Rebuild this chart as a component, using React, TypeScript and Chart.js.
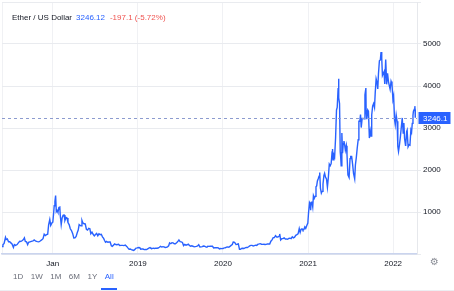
import React, { useEffect, useRef } from 'react';
import { Chart, registerables } from 'chart.js';

Chart.register(...registerables);

const title = 'Ether / US Dollar';
const ranges = ['1D', '1W', '1M', '6M', '1Y', 'All'];
const activeRange = 'All';
const yTickValues = [0, 1000, 2000, 3000, 4000, 5000, 6000];
const yLabelValues = [1000, 2000, 3000, 4000, 5000];
const xTickYears = [2018, 2019, 2020, 2021, 2022];
const xTickLabels = ['Jan', '2019', '2020', '2021', '2022'];

const eth2017: [string, number][] = [
  ['2017-05-28', 175], ['2017-06-01', 220], ['2017-06-06', 250], ['2017-06-12', 395], ['2017-06-15', 345],
  ['2017-06-20', 360], ['2017-06-25', 290], ['2017-06-30', 290], ['2017-07-05', 265], ['2017-07-10', 240],
  ['2017-07-16', 155], ['2017-07-20', 225], ['2017-07-25', 205], ['2017-08-01', 225], ['2017-08-06', 265],
  ['2017-08-12', 305], ['2017-08-16', 300], ['2017-08-22', 315], ['2017-08-28', 345], ['2017-09-01', 385],
  ['2017-09-05', 300], ['2017-09-10', 290], ['2017-09-15', 225], ['2017-09-19', 280], ['2017-09-25', 290],
  ['2017-10-01', 300], ['2017-10-08', 310], ['2017-10-13', 335], ['2017-10-20', 305], ['2017-10-27', 295],
  ['2017-11-02', 290], ['2017-11-08', 310], ['2017-11-14', 335], ['2017-11-20', 365], ['2017-11-25', 470],
  ['2017-11-30', 440], ['2017-12-05', 460], ['2017-12-10', 470], ['2017-12-14', 695], ['2017-12-19', 820],
  ['2017-12-23', 680], ['2017-12-28', 740],
];

const eth2018: [string, number][] = [
  ['2018-01-01', 760], ['2018-01-04', 940], ['2018-01-07', 1150], ['2018-01-10', 1250], ['2018-01-13', 1390],
  ['2018-01-16', 1010], ['2018-01-19', 1040], ['2018-01-23', 990], ['2018-01-27', 1110], ['2018-01-31', 1120],
  ['2018-02-02', 915], ['2018-02-06', 700], ['2018-02-10', 860], ['2018-02-14', 920], ['2018-02-18', 930],
  ['2018-02-22', 800], ['2018-02-27', 870], ['2018-03-03', 860], ['2018-03-07', 750], ['2018-03-12', 700],
  ['2018-03-17', 600], ['2018-03-22', 560], ['2018-03-27', 490], ['2018-04-01', 380], ['2018-04-06', 385],
  ['2018-04-11', 420], ['2018-04-16', 510], ['2018-04-20', 570], ['2018-04-24', 700], ['2018-04-28', 680],
  ['2018-05-02', 670], ['2018-05-06', 800], ['2018-05-10', 740], ['2018-05-15', 720], ['2018-05-20', 715],
  ['2018-05-25', 590], ['2018-05-30', 570], ['2018-06-04', 610], ['2018-06-09', 600], ['2018-06-13', 480],
  ['2018-06-18', 520], ['2018-06-23', 470], ['2018-06-28', 430], ['2018-07-03', 465], ['2018-07-08', 490],
  ['2018-07-13', 435], ['2018-07-18', 480], ['2018-07-23', 460], ['2018-07-28', 470], ['2018-08-02', 410],
  ['2018-08-07', 370], ['2018-08-11', 320], ['2018-08-15', 280], ['2018-08-20', 300], ['2018-08-25', 280],
  ['2018-08-30', 285], ['2018-09-04', 285], ['2018-09-09', 195], ['2018-09-13', 180], ['2018-09-18', 210],
  ['2018-09-23', 240], ['2018-09-28', 225], ['2018-10-03', 220], ['2018-10-10', 230], ['2018-10-15', 200],
  ['2018-10-20', 205], ['2018-10-27', 205], ['2018-11-02', 200], ['2018-11-08', 215], ['2018-11-14', 180],
  ['2018-11-19', 145], ['2018-11-24', 115], ['2018-11-29', 120], ['2018-12-04', 105], ['2018-12-09', 95],
  ['2018-12-14', 85], ['2018-12-19', 110], ['2018-12-24', 140], ['2018-12-29', 145],
];

const eth2019: [string, number][] = [
  ['2019-01-04', 155], ['2019-01-09', 150], ['2019-01-13', 115], ['2019-01-18', 120], ['2019-01-23', 118],
  ['2019-01-28', 105], ['2019-02-02', 110], ['2019-02-07', 105], ['2019-02-12', 123], ['2019-02-17', 140],
  ['2019-02-22', 155], ['2019-02-26', 135], ['2019-03-03', 130], ['2019-03-08', 140], ['2019-03-13', 132],
  ['2019-03-18', 140], ['2019-03-24', 138], ['2019-03-29', 142], ['2019-04-03', 160], ['2019-04-08', 180],
  ['2019-04-13', 165], ['2019-04-18', 175], ['2019-04-23', 170], ['2019-04-28', 155], ['2019-05-03', 160],
  ['2019-05-08', 170], ['2019-05-13', 195], ['2019-05-17', 265], ['2019-05-22', 245], ['2019-05-27', 270],
  ['2019-06-01', 265], ['2019-06-06', 245], ['2019-06-11', 245], ['2019-06-16', 270], ['2019-06-21', 295],
  ['2019-06-26', 335], ['2019-07-01', 295], ['2019-07-06', 290], ['2019-07-11', 275], ['2019-07-16', 200],
  ['2019-07-21', 230], ['2019-07-26', 210], ['2019-07-31', 220], ['2019-08-05', 235], ['2019-08-10', 205],
  ['2019-08-15', 185], ['2019-08-20', 195], ['2019-08-25', 185], ['2019-08-30', 170], ['2019-09-04', 175],
  ['2019-09-09', 180], ['2019-09-14', 190], ['2019-09-19', 220], ['2019-09-24', 165], ['2019-09-29', 170],
  ['2019-10-04', 175], ['2019-10-09', 190], ['2019-10-14', 185], ['2019-10-19', 172], ['2019-10-24', 160],
  ['2019-10-28', 185], ['2019-11-02', 182], ['2019-11-07', 188], ['2019-11-12', 185], ['2019-11-17', 185],
  ['2019-11-22', 145], ['2019-11-27', 150], ['2019-12-02', 150], ['2019-12-07', 148], ['2019-12-12', 145],
  ['2019-12-17', 122], ['2019-12-22', 130], ['2019-12-27', 127],
];

const eth2020: [string, number][] = [
  ['2020-01-01', 130], ['2020-01-06', 145], ['2020-01-11', 145], ['2020-01-16', 165], ['2020-01-21', 168],
  ['2020-01-26', 160], ['2020-01-31', 180], ['2020-02-05', 205], ['2020-02-10', 225], ['2020-02-14', 285],
  ['2020-02-18', 280], ['2020-02-22', 262], ['2020-02-26', 225], ['2020-03-02', 232], ['2020-03-07', 240],
  ['2020-03-12', 112], ['2020-03-16', 110], ['2020-03-21', 132], ['2020-03-26', 138], ['2020-03-31', 133],
  ['2020-04-05', 145], ['2020-04-10', 158], ['2020-04-15', 155], ['2020-04-20', 172], ['2020-04-25', 194],
  ['2020-04-30', 206], ['2020-05-05', 205], ['2020-05-10', 190], ['2020-05-15', 200], ['2020-05-20', 210],
  ['2020-05-25', 205], ['2020-05-31', 235], ['2020-06-05', 240], ['2020-06-10', 247], ['2020-06-15', 232],
  ['2020-06-20', 230], ['2020-06-25', 233], ['2020-06-30', 226], ['2020-07-05', 230], ['2020-07-10', 240],
  ['2020-07-15', 238], ['2020-07-20', 236], ['2020-07-25', 305], ['2020-07-30', 335], ['2020-08-04', 390],
  ['2020-08-09', 390], ['2020-08-14', 437], ['2020-08-19', 405], ['2020-08-24', 405], ['2020-08-29', 425],
  ['2020-09-01', 478], ['2020-09-05', 335], ['2020-09-10', 365], ['2020-09-15', 365], ['2020-09-20', 385],
  ['2020-09-25', 355], ['2020-09-30', 360], ['2020-10-05', 350], ['2020-10-10', 370], ['2020-10-15', 378],
  ['2020-10-20', 368], ['2020-10-25', 408], ['2020-10-30', 385], ['2020-11-04', 400], ['2020-11-09', 445],
  ['2020-11-14', 460], ['2020-11-19', 480], ['2020-11-24', 605], ['2020-11-28', 515], ['2020-12-02', 590],
  ['2020-12-06', 600], ['2020-12-10', 570], ['2020-12-14', 585], ['2020-12-18', 645], ['2020-12-22', 610],
  ['2020-12-27', 685], ['2020-12-31', 738],
];

const eth2021: [string, number][] = [
  ['2021-01-03', 975], ['2021-01-07', 1225], ['2021-01-10', 1190], ['2021-01-12', 1040], ['2021-01-14', 1230],
  ['2021-01-17', 1250], ['2021-01-21', 1120], ['2021-01-24', 1390], ['2021-01-28', 1330], ['2021-02-01', 1375],
  ['2021-02-04', 1600], ['2021-02-07', 1620], ['2021-02-10', 1740], ['2021-02-14', 1800], ['2021-02-17', 1850],
  ['2021-02-20', 1940], ['2021-02-23', 1570], ['2021-02-27', 1450], ['2021-03-02', 1490], ['2021-03-06', 1660],
  ['2021-03-10', 1870], ['2021-03-13', 1920], ['2021-03-17', 1825], ['2021-03-21', 1785], ['2021-03-25', 1590],
  ['2021-03-29', 1820], ['2021-04-02', 2140], ['2021-04-06', 2100], ['2021-04-10', 2150], ['2021-04-14', 2430],
  ['2021-04-16', 2500], ['2021-04-18', 2240], ['2021-04-22', 2360], ['2021-04-25', 2320], ['2021-04-29', 2760],
  ['2021-05-03', 3430], ['2021-05-06', 3490], ['2021-05-10', 3950], ['2021-05-12', 4170], ['2021-05-13', 3720],
  ['2021-05-16', 3580], ['2021-05-19', 2430], ['2021-05-21', 2300], ['2021-05-23', 2100], ['2021-05-26', 2880],
  ['2021-05-29', 2400], ['2021-06-01', 2630], ['2021-06-04', 2690], ['2021-06-07', 2600], ['2021-06-10', 2470],
  ['2021-06-14', 2580], ['2021-06-17', 2370], ['2021-06-21', 1880], ['2021-06-22', 1870], ['2021-06-26', 1820],
  ['2021-06-30', 2270], ['2021-07-03', 2320], ['2021-07-07', 2320], ['2021-07-11', 2140], ['2021-07-15', 1920],
  ['2021-07-20', 1790], ['2021-07-23', 2120], ['2021-07-27', 2300], ['2021-07-31', 2530], ['2021-08-04', 2720],
  ['2021-08-07', 3160], ['2021-08-11', 3160], ['2021-08-14', 3320], ['2021-08-17', 3010], ['2021-08-21', 3230],
  ['2021-08-25', 3230], ['2021-08-29', 3220], ['2021-09-02', 3790], ['2021-09-06', 3950], ['2021-09-07', 3430],
  ['2021-09-10', 3210], ['2021-09-14', 3430], ['2021-09-17', 3400], ['2021-09-21', 2760], ['2021-09-25', 2930],
  ['2021-09-28', 2810], ['2021-10-01', 3310], ['2021-10-05', 3520], ['2021-10-09', 3580], ['2021-10-13', 3490],
  ['2021-10-16', 3830], ['2021-10-20', 4170], ['2021-10-24', 4080], ['2021-10-27', 3930], ['2021-10-30', 4290],
  ['2021-11-03', 4600], ['2021-11-07', 4620], ['2021-11-10', 4810], ['2021-11-13', 4660], ['2021-11-16', 4250],
  ['2021-11-19', 4290], ['2021-11-23', 4340], ['2021-11-26', 4050], ['2021-11-30', 4630], ['2021-12-03', 4230],
  ['2021-12-04', 4040], ['2021-12-08', 4300], ['2021-12-12', 4100], ['2021-12-15', 4020], ['2021-12-19', 3920],
  ['2021-12-23', 4110], ['2021-12-27', 4040], ['2021-12-31', 3680],
];

const eth2022: [string, number][] = [
  ['2022-01-03', 3760], ['2022-01-07', 3200], ['2022-01-10', 3080], ['2022-01-14', 3310], ['2022-01-18', 3160],
  ['2022-01-21', 2560], ['2022-01-24', 2440], ['2022-01-28', 2600], ['2022-02-01', 2790], ['2022-02-05', 3020],
  ['2022-02-09', 3240], ['2022-02-13', 2880], ['2022-02-16', 3120], ['2022-02-19', 2750], ['2022-02-23', 2590],
  ['2022-02-24', 2600], ['2022-02-28', 2920], ['2022-03-02', 2950], ['2022-03-06', 2550], ['2022-03-10', 2600],
  ['2022-03-14', 2590], ['2022-03-18', 2950], ['2022-03-21', 2900], ['2022-03-24', 3110], ['2022-03-27', 3300],
  ['2022-03-29', 3400], ['2022-04-02', 3450], ['2022-04-04', 3520], ['2022-04-05', 3443.22], ['2022-04-06', 3246.12],
];

const series = [...eth2017, ...eth2018, ...eth2019, ...eth2020, ...eth2021, ...eth2022];

function toYear(d: string): number {
  const [y, m, day] = d.split('-').map(Number);
  const t = Date.UTC(y, m - 1, day);
  const s = Date.UTC(y, 0, 1);
  const e = Date.UTC(y + 1, 0, 1);
  return y + (t - s) / (e - s);
}

const FONT = '"Liberation Sans", Arial, sans-serif';
const BLUE = '#2962ff';

const lastPrice = series[series.length - 1][1];
const prevPrice = series[series.length - 2][1];
const change = lastPrice - prevPrice;
const changePct = (change / prevPrice) * 100;

export default function App() {
  const ref = useRef<HTMLCanvasElement | null>(null);

  useEffect(() => {
    if (!ref.current) return;
    const points = series.map(([d, p]) => ({ x: toYear(d), y: p }));
    const xMin = points[0].x;
    const xMax = points[points.length - 1].x + 0.02;

    const lastPricePlugin = {
      id: 'lastPrice',
      afterDraw(chart: any) {
        const { ctx, chartArea, scales } = chart;
        const y = Math.round(scales.y.getPixelForValue(lastPrice)) + 0.5;
        ctx.save();
        ctx.setLineDash([3, 3]);
        ctx.strokeStyle = '#8c9bcf';
        ctx.lineWidth = 1;
        ctx.beginPath();
        ctx.moveTo(chartArea.left, y);
        ctx.lineTo(chartArea.right, y);
        ctx.stroke();
        ctx.setLineDash([]);
        ctx.fillStyle = BLUE;
        ctx.fillRect(chartArea.right + 1.5, y - 6.5, 32, 12);
        ctx.fillStyle = '#ffffff';
        ctx.font = `8px ${FONT}`;
        ctx.textBaseline = 'middle';
        ctx.textAlign = 'left';
        ctx.fillText(lastPrice.toFixed(1), chartArea.right + 6, y);
        ctx.restore();
      },
    };

    const chart = new Chart(ref.current, {
      type: 'line',
      data: {
        datasets: [
          {
            data: points,
            borderColor: BLUE,
            borderWidth: 1.4,
            pointRadius: 0,
            tension: 0,
            fill: false,
          },
        ],
      },
      options: {
        animation: false,
        responsive: false,
        devicePixelRatio: 1,
        layout: { padding: { left: 2, top: 2, right: 0, bottom: 23 } },
        plugins: { legend: { display: false }, tooltip: { enabled: false } },
        scales: {
          x: {
            type: 'linear',
            min: xMin,
            max: xMax,
            afterBuildTicks: (scale: any) => {
              scale.ticks = [xMin, ...xTickYears].map((v) => ({ value: v }));
            },
            afterFit: (scale: any) => {
              scale.height = 14;
              scale.paddingLeft = 0;
              scale.paddingRight = 0;
            },
            grid: { color: '#f0f1f4', drawTicks: false },
            border: { color: '#cad4ee', width: 1.5 },
            ticks: {
              autoSkip: false,
              maxRotation: 0,
              padding: 5,
              color: '#131722',
              font: { family: FONT, size: 8 },
              callback: (v: any) => {
                const i = xTickYears.indexOf(Number(v));
                return i >= 0 ? xTickLabels[i] : '';
              },
            },
          },
          y: {
            type: 'linear',
            position: 'right',
            min: 0,
            max: 6000,
            afterBuildTicks: (scale: any) => {
              scale.ticks = yTickValues.map((v) => ({ value: v }));
            },
            afterFit: (scale: any) => {
              scale.width = 37;
              scale.paddingTop = 0;
              scale.paddingBottom = 0;
            },
            grid: { color: '#e9ebef', tickLength: 4 },
            border: { color: '#e6e8ec' },
            ticks: {
              padding: 2,
              color: '#131722',
              font: { family: FONT, size: 8 },
              callback: (v: any) => (yLabelValues.includes(Number(v)) ? String(v) : ''),
            },
          },
        },
      },
      plugins: [lastPricePlugin],
    } as any);
    return () => chart.destroy();
  }, []);

  return (
    <div
      style={{
        position: 'fixed',
        left: 0,
        top: 0,
        width: 454,
        height: 291,
        background: '#ffffff',
        overflow: 'hidden',
        fontFamily: FONT,
      }}
    >
      <canvas ref={ref} width={454} height={291} style={{ position: 'absolute', left: 0, top: 0, width: 454, height: 291 }} />
      <div style={{ position: 'absolute', left: 12, top: 13, fontSize: 8, lineHeight: '10px', whiteSpace: 'nowrap' }}>
        <span style={{ color: '#131722' }}>{title}</span>
        <span style={{ color: BLUE, marginLeft: 4 }}>{lastPrice.toFixed(2)}</span>
        <span style={{ color: '#ef5350', marginLeft: 5 }}>
          {change.toFixed(1)} ({changePct.toFixed(2)}%)
        </span>
      </div>
      <div style={{ position: 'absolute', left: 430, top: 256, fontSize: 10, lineHeight: '12px', color: '#8a8d96', fontFamily: '"DejaVu Sans", sans-serif' }}>
        ⚙
      </div>
      <div style={{ position: 'absolute', left: 13, top: 272, display: 'flex', gap: 7.5, fontSize: 8, lineHeight: '10px' }}>
        {ranges.map((r) => (
          <span key={r} style={{ position: 'relative', color: r === activeRange ? BLUE : '#6a6d78' }}>
            {r}
            {r === activeRange ? (
              <span style={{ position: 'absolute', left: -3.5, right: -3.5, top: 16, height: 2, background: BLUE }} />
            ) : null}
          </span>
        ))}
      </div>
      <div style={{ position: 'absolute', left: 0, top: 290, width: 454, height: 1, background: '#eceef2' }} />
    </div>
  );
}
